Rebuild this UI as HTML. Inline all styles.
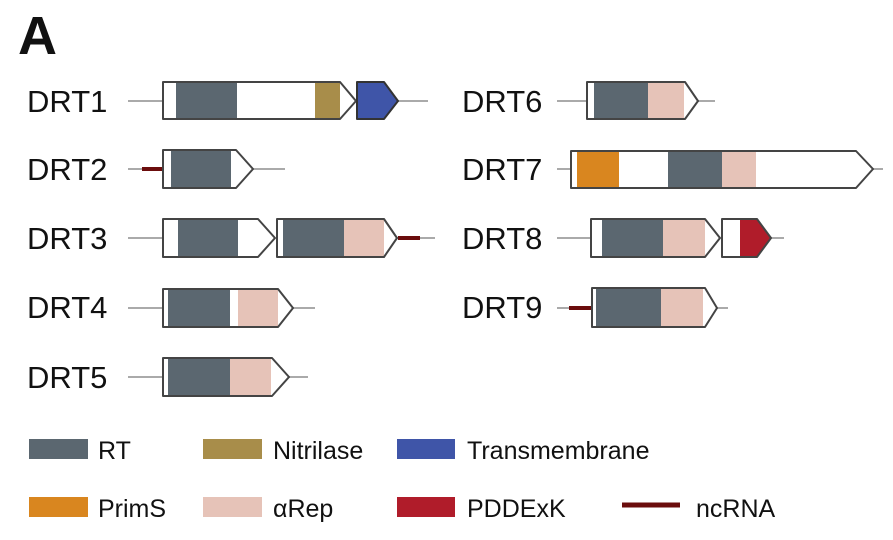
<!DOCTYPE html>
<html><head><meta charset="utf-8"><style>
html,body{margin:0;padding:0;background:#fff;}
svg{display:block;}
text{font-family:"Liberation Sans",Arial,sans-serif;fill:#111;}
</style></head><body>
<svg width="893" height="540" viewBox="0 0 893 540" xmlns="http://www.w3.org/2000/svg">
<text x="18" y="54" font-size="54" font-weight="bold">A</text>
<g font-size="31">
<text x="27" y="112">DRT1</text>
<text x="27" y="180">DRT2</text>
<text x="27" y="249">DRT3</text>
<text x="27" y="318">DRT4</text>
<text x="27" y="388">DRT5</text>
<text x="462" y="112">DRT6</text>
<text x="462" y="180">DRT7</text>
<text x="462" y="249">DRT8</text>
<text x="462" y="318">DRT9</text>
</g>
<g stroke="#aaa" stroke-width="2">
<line x1="128" y1="101" x2="163" y2="101"/><line x1="398" y1="101" x2="428" y2="101"/>
<line x1="128" y1="169" x2="163" y2="169"/><line x1="253" y1="169" x2="285" y2="169"/>
<line x1="128" y1="238" x2="163" y2="238"/><line x1="397" y1="238" x2="435" y2="238"/>
<line x1="128" y1="308" x2="163" y2="308"/><line x1="293" y1="308" x2="315" y2="308"/>
<line x1="128" y1="377" x2="163" y2="377"/><line x1="289" y1="377" x2="308" y2="377"/>
<line x1="557" y1="101" x2="587" y2="101"/><line x1="698" y1="101" x2="715" y2="101"/>
<line x1="557" y1="169" x2="571" y2="169"/><line x1="873" y1="169" x2="883" y2="169"/>
<line x1="557" y1="238" x2="591" y2="238"/><line x1="771" y1="238" x2="784" y2="238"/>
<line x1="557" y1="308" x2="592" y2="308"/><line x1="717" y1="308" x2="728" y2="308"/>
</g>
<g stroke="#6b0d0d" stroke-width="4">
<line x1="142" y1="169" x2="163" y2="169"/>
<line x1="398" y1="238" x2="420" y2="238"/>
<line x1="569" y1="308" x2="592" y2="308"/>
</g>
<!-- domains -->
<g>
<rect x="176" y="83" width="61" height="35" fill="#5b6770"/>
<rect x="315" y="83" width="25" height="35" fill="#a88d4a"/>
<rect x="171" y="151" width="60" height="36" fill="#5b6770"/>
<rect x="178" y="220" width="60" height="37" fill="#5b6770"/>
<rect x="283" y="220" width="61" height="37" fill="#5b6770"/>
<rect x="344" y="220" width="40" height="37" fill="#e6c3b8"/>
<rect x="168" y="290" width="62" height="36" fill="#5b6770"/>
<rect x="238" y="290" width="40" height="36" fill="#e6c3b8"/>
<rect x="168" y="359" width="62" height="36" fill="#5b6770"/>
<rect x="230" y="359" width="41" height="36" fill="#e6c3b8"/>
<rect x="594" y="83" width="54" height="35" fill="#5b6770"/>
<rect x="648" y="83" width="36" height="35" fill="#e6c3b8"/>
<rect x="577" y="152" width="42" height="35" fill="#d9861f"/>
<rect x="668" y="152" width="54" height="35" fill="#5b6770"/>
<rect x="722" y="152" width="34" height="35" fill="#e6c3b8"/>
<rect x="602" y="220" width="61" height="37" fill="#5b6770"/>
<rect x="663" y="220" width="42" height="37" fill="#e6c3b8"/>
<rect x="596" y="289" width="65" height="37" fill="#5b6770"/>
<rect x="661" y="289" width="42" height="37" fill="#e6c3b8"/>
</g>
<g fill="none" stroke="#444" stroke-width="2" stroke-linejoin="round">
<path d="M163 82H340L356 101L340 119H163Z"/>
<path d="M163 150H236L253 169L236 188H163Z"/>
<path d="M163 219H258L275 238L258 257H163Z"/>
<path d="M277 219H384L397 238L384 257H277Z"/>
<path d="M163 289H278L293 308L278 327H163Z"/>
<path d="M163 358H272L289 377L272 396H163Z"/>
<path d="M587 82H685L698 101L685 119H587Z"/>
<path d="M571 151H856L873 169L856 188H571Z"/>
<path d="M591 219H705L720 238L705 257H591Z"/>
<path d="M592 288H705L717 308L705 327H592Z"/>
</g>
<path d="M357 82H384L398 101L384 119H357Z" fill="#3f55a8" stroke="#333" stroke-width="2" stroke-linejoin="round"/>
<path d="M740 219H757L771 238L757 257H740Z" fill="#b01c2a"/>
<path d="M722 219H757L771 238L757 257H722Z" fill="none" stroke="#444" stroke-width="2" stroke-linejoin="round"/>
<!-- legend -->
<rect x="29" y="439" width="59" height="20" fill="#5b6770"/>
<rect x="203" y="439" width="59" height="20" fill="#a88d4a"/>
<rect x="397" y="439" width="58" height="20" fill="#3f55a8"/>
<rect x="29" y="497" width="59" height="20" fill="#d9861f"/>
<rect x="203" y="497" width="59" height="20" fill="#e6c3b8"/>
<rect x="397" y="497" width="58" height="20" fill="#b01c2a"/>
<line x1="622" y1="505" x2="680" y2="505" stroke="#6b0d0d" stroke-width="5"/>
<g font-size="25">
<text x="98" y="459">RT</text>
<text x="273" y="459">Nitrilase</text>
<text x="467" y="459">Transmembrane</text>
<text x="98" y="517">PrimS</text>
<text x="273" y="517">αRep</text>
<text x="467" y="517">PDDExK</text>
<text x="696" y="517">ncRNA</text>
</g>
</svg>
</body></html>
